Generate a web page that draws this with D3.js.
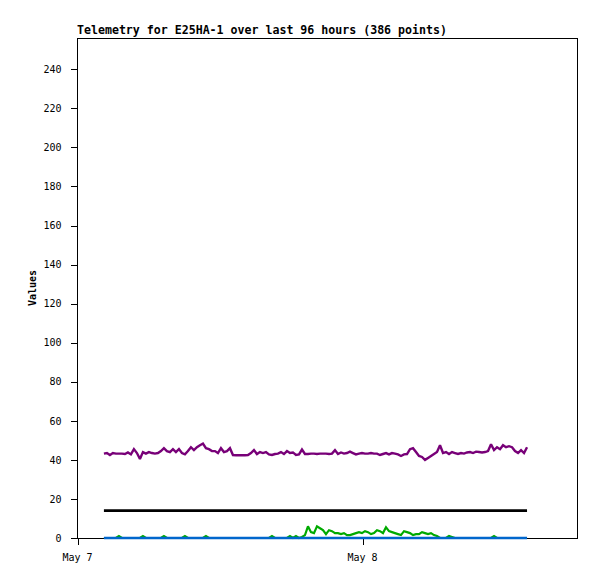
<!DOCTYPE html>
<html>
<head>
<meta charset="utf-8">
<script src="https://cdn.jsdelivr.net/npm/d3@7/dist/d3.min.js"></script>
<style>
  html, body { margin: 0; padding: 0; background: #fff; }
  svg { display: block; }
  text { font-family: "DejaVu Sans Mono", "Liberation Mono", monospace; fill: #000; }
</style>
</head>
<body>
<script>
// ---------- data ----------
const title = "Telemetry for E25HA-1 over last 96 hours (386 points)";
const yLabel = "Values";
const xTickDates = ["2024-05-07T00:00:00Z", "2024-05-08T00:00:00Z"];
const xTickLabels = ["May 7", "May 8"];
const yTicks = [0, 20, 40, 60, 80, 100, 120, 140, 160, 180, 200, 220, 240];
const xDomain = ["2024-05-07T00:00:00Z", "2024-05-08T18:06:00Z"];
const yDomain = [0, 256];

// sample times: first sample and spacing (minutes)
const firstSample = "2024-05-07T02:16:00Z";
const sampleMinutes = 15.16;

const purpleValues = [
  43.2,43.5,42.5,43.5,43.2,43.2,43.2,43.0,43.8,42.8,45.5,43.5,40.5,44.0,43.2,44.0,
  43.5,43.2,43.5,44.5,46.0,44.5,44.0,45.5,44.0,45.5,43.5,42.8,44.5,46.5,45.0,46.5,
  47.5,48.3,46.0,45.5,44.5,44.5,43.5,46.0,44.0,44.5,46.0,42.5,42.4,42.4,42.4,42.4,
  42.5,43.5,45.0,43.0,44.0,43.5,44.0,42.8,42.5,43.0,43.2,44.0,43.0,44.5,43.5,43.8,
  42.5,42.8,45.3,43.0,43.0,43.2,43.2,43.0,43.2,43.2,43.2,43.0,43.2,45.0,43.0,43.8,
  43.2,43.5,44.2,43.5,42.8,43.2,43.5,43.2,43.2,43.5,43.2,43.2,42.5,43.0,43.5,42.8,
  43.5,43.2,42.8,42.0,42.8,43.0,45.5,46.0,44.0,42.0,41.5,40.0,41.0,42.0,43.0,44.0,
  47.5,43.5,44.0,43.0,44.0,43.5,43.0,43.5,43.2,43.8,44.0,43.5,44.2,44.0,43.8,44.0,
  44.5,48.0,45.0,46.5,45.5,47.5,46.5,47.0,46.5,44.5,43.5,45.0,43.5,46.5
];

const greenValues = [
  0,0,0,0,0,1,0,0,0,0,0,0,0,1,0,0,
  0,0,0,0,1,0,0,0,0,0,0,1,0,0,0,0,
  0,0,1,0,0,0,0,0,0,0,0,0,0,0,0,0,
  0,0,0,0,0,0,0,0,1,0,0,0,0,0,1,0,
  1,0,0.5,1.5,6,3,2.5,6,5,4,2,4,3.5,2.5,2.5,2,
  2.5,1.5,1.5,2,2.5,3,2.5,3.5,3,2,2.5,4,3.5,2.5,5.5,3.5,
  3,2.5,2,1.5,3.5,3,2.5,1.5,2,2,3,2.5,2,2.5,1.5,1,
  0,0,0,1,0.5,0,0,0,0,0,0,0,0,0,0,0,
  0,0,1,0,0,0,0,0,0,0,0,0,0,0
];

const blackValues = [14, 14];
const blueValues = [0, 0];

const colors = { purple: "#780078", black: "#000000", green: "#00aa00", blue: "#0066cc" };

// ---------- layout ----------
const W = 597, H = 579;
const margin = { left: 77, top: 38, right: 20, bottom: 41 };
const pw = W - margin.left - margin.right;   // 500
const ph = H - margin.top - margin.bottom;   // 500

const svg = d3.select("body").append("svg").attr("width", W).attr("height", H);
const g = svg.append("g").attr("transform", `translate(${margin.left},${margin.top})`);

const x = d3.scaleUtc().domain(xDomain.map(d => new Date(d))).range([0, pw]);
const y = d3.scaleLinear().domain(yDomain).range([ph, 0]);

const t0 = new Date(firstSample).getTime();
const timeAt = i => new Date(t0 + i * sampleMinutes * 60000);
const nSamples = purpleValues.length;
const lastTime = timeAt(nSamples - 1);

const purple = purpleValues.map((v, i) => ({ t: timeAt(i), v }));
const green = greenValues.map((v, i) => ({ t: timeAt(i), v }));
const black = [{ t: timeAt(0), v: blackValues[0] }, { t: lastTime, v: blackValues[1] }];
const blue = [{ t: timeAt(0), v: blueValues[0] }, { t: lastTime, v: blueValues[1] }];

// frame
g.append("rect").attr("x", 0.5).attr("y", 0.5).attr("width", pw).attr("height", ph - 0.5)
  .attr("fill", "none").attr("stroke", "#000").attr("stroke-width", 1)
  .attr("shape-rendering", "crispEdges");

// y axis
const yAxis = d3.axisLeft(y).tickValues(yTicks).tickSize(7).tickPadding(9).tickFormat(d3.format("d"));
const ya = g.append("g").attr("transform", "translate(0.5,0)").call(yAxis);
ya.select(".domain").remove();
ya.selectAll("line").attr("stroke", "#000").attr("shape-rendering", "crispEdges");
ya.selectAll("text").style("font-size", "10px").style("font-family", "'DejaVu Sans Mono', monospace");

// x axis
const xAxis = d3.axisBottom(x).tickValues(xTickDates.map(d => new Date(d))).tickSize(7).tickPadding(9)
  .tickFormat((d, i) => xTickLabels[i]);
const xa = g.append("g").attr("transform", `translate(0,${ph})`).call(xAxis);
xa.select(".domain").remove();
xa.selectAll("line").attr("stroke", "#000").attr("shape-rendering", "crispEdges")
  .attr("transform", "translate(0.5,0)");
xa.selectAll("text").style("font-size", "10px").style("font-family", "'DejaVu Sans Mono', monospace");

// series
const line = d3.line().x(d => x(d.t)).y(d => y(d.v));
function drawSeries(data, color, width) {
  g.append("path").datum(data)
    .attr("d", line)
    .attr("fill", "none")
    .attr("stroke", color)
    .attr("stroke-width", width)
    .attr("stroke-linejoin", "miter")
    .attr("stroke-miterlimit", 2);
}
drawSeries(purple, colors.purple, 2.4);
drawSeries(black, colors.black, 2.6);
drawSeries(green, colors.green, 2.2);
drawSeries(blue, colors.blue, 2.4);

// title
svg.append("text").attr("x", margin.left).attr("y", 34)
  .style("font-size", "11.6px").style("font-weight", "bold").text(title);

// y label
svg.append("text")
  .attr("transform", `translate(36,${margin.top + ph / 2}) rotate(-90)`)
  .attr("text-anchor", "middle")
  .style("font-size", "10px").style("font-weight", "bold").text(yLabel);
</script>
</body>
</html>
